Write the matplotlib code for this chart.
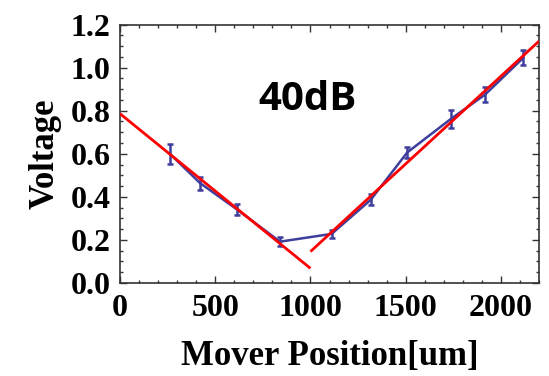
import matplotlib
matplotlib.use("Agg")
import matplotlib.pyplot as plt
import numpy as np
from matplotlib.ticker import MultipleLocator

# Measured voltage vs mover position
position = [262, 420, 612, 840, 1111, 1316, 1508, 1736, 1916, 2117]
voltage = [0.600, 0.464, 0.343, 0.192, 0.228, 0.386, 0.606, 0.761, 0.874, 1.045]
voltage_err = [0.047, 0.030, 0.025, 0.020, 0.020, 0.025, 0.025, 0.040, 0.035, 0.035]

# Linear fits on each side of the minimum: (slope, intercept, x-start, x-end)
fit_left = (-0.000718, 0.786, 0, 1000)
fit_right = (0.000814, -0.668, 1000, 2200)

serif = "Liberation Serif"

fig = plt.figure(figsize=(5.49, 3.76), dpi=100)
ax = fig.add_axes([0.2186, 0.2473, 0.9818 - 0.2186, 0.9348 - 0.2473])

blue = "#3e3e9c"
ax.errorbar(position, voltage, yerr=voltage_err, color=blue, lw=1.8,
            elinewidth=1.8, capsize=2.5, capthick=1.8, zorder=2)

for slope, icpt, x0, x1 in (fit_left, fit_right):
    xs = np.array([x0, x1])
    ax.plot(xs, slope * xs + icpt, color="#ff0000", lw=2.0, zorder=3,
            solid_capstyle="butt")

ax.set_xlim(0, 2200)
ax.set_ylim(0, 1.2)
ax.xaxis.set_major_locator(MultipleLocator(500))
ax.xaxis.set_minor_locator(MultipleLocator(100))
ax.yaxis.set_major_locator(MultipleLocator(0.2))
ax.yaxis.set_minor_locator(MultipleLocator(0.05))
ax.yaxis.set_major_formatter(matplotlib.ticker.FormatStrFormatter("%.1f"))

ax.tick_params(which="both", direction="in", top=True, right=True,
               color="#333333", width=1.0)
ax.tick_params(which="major", length=5)
ax.tick_params(which="minor", length=2.5)
ax.tick_params(axis="x", pad=8)
ax.tick_params(axis="y", pad=7)
for lab in ax.get_xticklabels() + ax.get_yticklabels():
    lab.set_fontfamily(serif)
    lab.set_fontweight("bold")
    lab.set_fontsize(23)

for sp in ax.spines.values():
    sp.set_color("#333333")
    sp.set_linewidth(1.2)

ax.set_xlabel("Mover Position[um]", fontfamily=serif, fontweight="bold",
              fontsize=25, labelpad=12)
ax.set_ylabel("Voltage", fontfamily=serif, fontweight="bold",
              fontsize=25, labelpad=6)

ax.text(987, 0.85, "40dB", fontfamily="Open Sans", fontweight="bold",
        fontsize=29, ha="center", va="center")

fig.savefig("out.png", dpi=100)
